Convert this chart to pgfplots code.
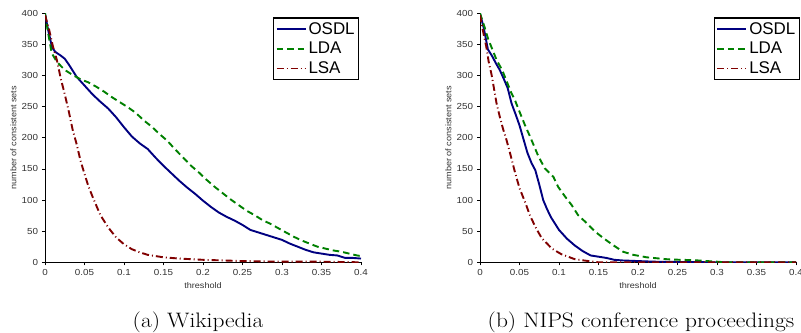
\documentclass[border=0pt]{standalone}
\usepackage{pgfplots}
\pgfplotsset{compat=1.18}
\usepackage{fontspec}
\newfontfamily\arial{Liberation Sans}
\definecolor{osdl}{RGB}{0,0,128}
\definecolor{lda}{RGB}{0,128,0}
\definecolor{lsa}{RGB}{128,0,0}
\pgfplotsset{
  myaxis/.style={
    scale only axis, width=316bp, height=249bp, anchor=south west,
    xmin=0, xmax=0.4, ymin=0, ymax=400,
    axis x line*=bottom, axis y line*=left,
    axis line style={black, line width=0.8bp},
    tick align=outside, major tick length=3bp,
    tick style={black, line width=0.8bp},
    xtick={0,0.05,0.1,0.15,0.2,0.25,0.3,0.35,0.4},
    xticklabels={0,0.05,0.1,0.15,0.2,0.25,0.3,0.35,0.4},
    ytick={0,50,100,150,200,250,300,350,400},
    yticklabels={0,50,100,150,200,250,300,350,400},
    ticklabel style={font=\arial\fontsize{8.8}{10}\selectfont, text=black!80, xscale=1.12},
    xticklabel style={yshift=-1bp},
    xlabel={threshold}, ylabel={number of consistent sets},
    label style={font=\arial\fontsize{8.3}{9}\selectfont, text=black!80},
    xlabel style={at={(axis description cs:0.5,-0.095)}, anchor=center, xscale=1.1},
    ylabel style={at={(axis description cs:-0.1,0.5)}, anchor=center, xscale=1.1},
    legend cell align=left,
    legend style={font=\arial\fontsize{17}{19}\selectfont, draw=black, line width=1.3bp,
      inner xsep=2bp, inner ysep=2.5bp, row sep=2.5bp, anchor=north east},
    legend image code/.code={\draw[#1] (0bp,0bp) -- (29bp,0bp);},
  },
  osdlst/.style={osdl, solid, line width=1.9bp},
  ldast/.style={lda, line width=1.9bp, dash pattern=on 6.5bp off 4bp},
  lsast/.style={lsa, line width=1.9bp, dash pattern=on 7bp off 3bp on 1bp off 3bp},
}
\begin{document}
\begin{tikzpicture}
\path[use as bounding box] (0,0) rectangle (801bp,333bp);
\begin{axis}[myaxis, at={(45bp,70.7bp)},
  legend style={at={(axis description cs:0.9946,0.984)}}]
\addplot[osdlst] coordinates {
(0,400) (0.004,373) (0.009,345) (0.013,338) (0.02,332) (0.025,327) (0.03,318) (0.035,308) (0.04,298) (0.05,284) (0.06,270) (0.07,258) (0.08,247) (0.09,233) (0.1,217) (0.11,202) (0.12,191) (0.13,182) (0.14,168) (0.15,155) (0.16,143) (0.17,131) (0.18,120) (0.19,110) (0.2,99) (0.21,89) (0.22,80) (0.23,73) (0.24,67) (0.25,60) (0.26,52) (0.27,48) (0.28,44) (0.29,40) (0.3,36) (0.31,30) (0.32,25) (0.33,20) (0.34,16) (0.35,14) (0.36,12) (0.37,11) (0.38,7) (0.39,7) (0.4,6)};
\addlegendentry{OSDL}
\addplot[ldast] coordinates {
(0,400) (0.004,368) (0.0085,336) (0.015,322) (0.025,309) (0.035,301) (0.045,294) (0.055,289) (0.065,282) (0.075,274) (0.085,265) (0.095,257) (0.105,249) (0.115,240) (0.125,228) (0.135,218) (0.145,206) (0.155,195) (0.165,181) (0.175,168) (0.185,155) (0.195,144) (0.205,132) (0.215,121) (0.225,111) (0.235,101) (0.245,92) (0.255,83) (0.265,76) (0.275,68) (0.285,62) (0.295,55) (0.305,48) (0.315,41) (0.325,35) (0.335,30) (0.345,25) (0.355,22) (0.365,19) (0.375,17) (0.385,14) (0.395,11) (0.4,10)};
\addlegendentry{LDA}
\addplot[lsast] coordinates {
(0,397) (0.005,375) (0.01,347) (0.015,325) (0.02,295) (0.025,270) (0.03,243) (0.035,213) (0.04,190) (0.045,163) (0.05,142) (0.055,122) (0.06,106) (0.07,76) (0.08,56) (0.09,40) (0.1,29) (0.11,21) (0.12,16) (0.13,12) (0.14,10) (0.15,8) (0.17,6) (0.2,4) (0.25,2) (0.3,1) (0.35,1) (0.4,0)};
\addlegendentry{LSA}
\end{axis}
\begin{axis}[myaxis, at={(480bp,70.7bp)},
  legend style={at={(axis description cs:1.0127,0.984)}}]
\addplot[osdlst] coordinates {
(0,400) (0.005,375) (0.01,342) (0.015,332) (0.02,320) (0.025,309) (0.03,295) (0.035,280) (0.04,255) (0.045,238) (0.05,220) (0.055,198) (0.06,176) (0.065,160) (0.07,148) (0.075,125) (0.08,100) (0.085,85) (0.09,72) (0.095,62) (0.1,52) (0.11,38) (0.12,27) (0.13,18) (0.14,11) (0.15,9) (0.16,7) (0.17,4) (0.18,3) (0.2,2) (0.22,1) (0.25,0.5) (0.3,0) (0.4,0)};
\addlegendentry{OSDL}
\addplot[ldast] coordinates {
(0,400) (0.0055,379) (0.01,360) (0.015,344) (0.021,325) (0.028,309) (0.034,290) (0.039,274) (0.045,258) (0.05,242) (0.057,220) (0.063,203) (0.074,170) (0.082,151) (0.093,137) (0.099,121) (0.108,105) (0.116,92) (0.124,76) (0.135,63) (0.146,49) (0.156,39) (0.168,28) (0.181,17) (0.194,12) (0.211,8) (0.236,5) (0.253,4) (0.27,3.5) (0.287,2) (0.3,1) (0.31,0) (0.4,0)};
\addlegendentry{LDA}
\addplot[lsast] coordinates {
(0,397) (0.004,370) (0.008,346) (0.011,322) (0.0147,301) (0.018,277) (0.021,255) (0.025,234) (0.029,215) (0.033,199) (0.0375,178) (0.044,146) (0.05,119) (0.057,97) (0.063,76) (0.07,57) (0.078,39) (0.091,22) (0.103,13) (0.12,5) (0.137,2) (0.15,0) (0.4,0)};
\addlegendentry{LSA}
\end{axis}
\node[font=\fontsize{21}{24}\selectfont, anchor=base, xscale=1.12] at (198bp,6bp) {(a) Wikipedia};
\node[font=\fontsize{21}{24}\selectfont, anchor=base, xscale=1.12] at (641bp,6bp) {(b) NIPS conference proceedings};
\end{tikzpicture}
\end{document}
